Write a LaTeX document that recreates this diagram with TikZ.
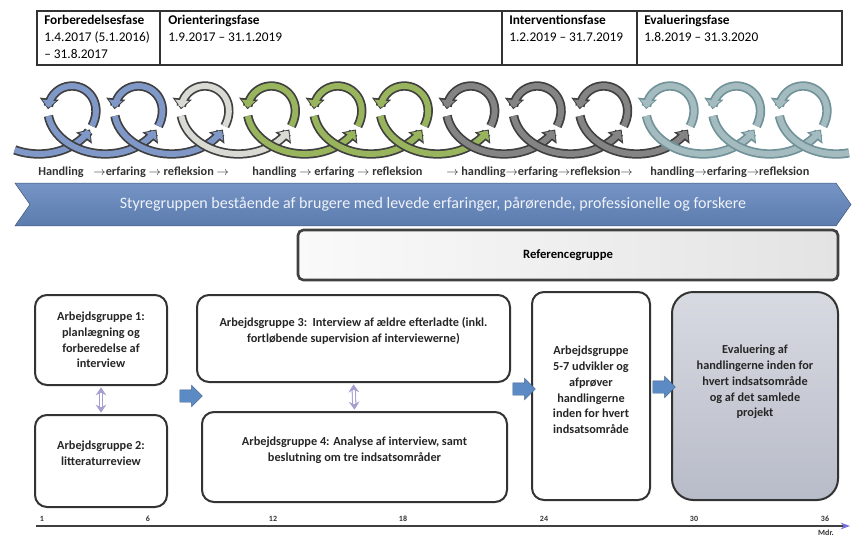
\documentclass[tikz,border=0pt]{standalone}
\usepackage{fontspec}
\setmainfont{Carlito}
\usetikzlibrary{arrows.meta,shapes.arrows,shapes.symbols}

\definecolor{bannertop}{RGB}{118,148,198}
\definecolor{bannerbot}{RGB}{92,124,174}
\definecolor{arrowblue}{RGB}{92,138,196}
\definecolor{coilblue}{RGB}{128,152,200}
\definecolor{coilwhite}{RGB}{218,218,212}
\definecolor{coilgreen}{RGB}{152,180,92}
\definecolor{coildark}{RGB}{132,132,132}
\definecolor{coilteal}{RGB}{164,188,192}
\definecolor{coiledge}{RGB}{112,146,152}
\definecolor{lavender}{RGB}{168,158,208}
\definecolor{evaltop}{RGB}{216,218,226}
\definecolor{evalbot}{RGB}{184,188,200}

\tikzset{
  agbox/.style={draw=black!80, line width=1.5pt, rounded corners=9pt, fill=white, inner sep=0pt},
  agtext/.style={font=\bfseries\fontsize{9.2}{11.8}\selectfont, align=center, text=black!85, inner sep=0pt},
  phasetext/.style={anchor=north west, align=left, inner sep=0pt, font=\fontsize{10}{12.8}\selectfont},
  cyclelabel/.style={anchor=west, inner sep=0pt, font=\bfseries\fontsize{9.2}{10}\selectfont, text=black!80},
  blockarrow/.style={single arrow, fill=arrowblue, draw=arrowblue!70!black, line width=0.3pt,
    minimum height=17pt, single arrow head extend=3.5pt, inner xsep=0pt, inner ysep=4.5pt},
  linkarrow/.style={{Stealth[length=6pt,width=8pt]}-{Stealth[length=6pt,width=8pt]}, draw=lavender,
    double=white, double distance=1.6pt, line width=0.8pt, shorten <=1pt, shorten >=1pt},
  monthlabel/.style={font=\bfseries\fontsize{6}{7}\selectfont, inner sep=0pt, text=black!80},
  % the coil
  coil outer/.style={line width=7pt},
  coil inner/.style={line width=4.4pt},
  tipped outer/.style={-{Triangle[length=8pt,width=14pt]}},
  tipped inner/.style={-{Triangle[length=5.5pt,width=10pt]}, shorten >=1.2pt},
  plain outer/.style={},
  plain inner/.style={},
}

% #1 tip kind, #2 centre, #3 and #4 parameter range, #5 edge colour, #6 fill colour
\newcommand{\coilseg}[6][tipped]{%
  \draw[coil outer, #1 outer, draw=#5] plot[domain=#3:#4, samples=30, variable=\t]
    ({#2+10.58*(\t-3.7*sin(\t r))},{120-34*cos(\t r)});
  \draw[coil inner, #1 inner, draw=#6] plot[domain=#3:#4, samples=30, variable=\t]
    ({#2+10.58*(\t-3.7*sin(\t r))},{120-34*cos(\t r)});
}

\begin{document}
\begin{tikzpicture}[x=0.75pt, y=-0.75pt]
\useasboundingbox (0,0) rectangle (853,539);

% phases
\draw[line width=0.9pt, draw=black!80] (37,11) rectangle (842,65);
\foreach \x in {160,502,637}
  \draw[line width=0.9pt, draw=black!80] (\x,11) -- (\x,65);
\node[phasetext] (ph1) at (44,15) {\textbf{Forberedelsesfase}\\1.4.2017 (5.1.2016)\\– 31.8.2017};
\node[phasetext] (ph2) at (168,15) {\textbf{Orienteringsfase}\\1.9.2017 – 31.1.2019};
\node[phasetext] (ph3) at (509,15) {\textbf{Interventionsfase}\\1.2.2019 – 31.7.2019};
\node[phasetext] (ph4) at (644,15) {\textbf{Evalueringsfase}\\1.8.2019 – 31.3.2020};

% coil: handling, erfaring, refleksion
\coilseg{72}{-3.64}{-1.85}{black!75}{coilblue}
\foreach \k/\edge/\col in {0/black!75/coilblue, 1/black!75/coilblue, 2/black!75/coilwhite,
    3/black!75/coilgreen, 4/black!75/coilgreen, 5/black!75/coilgreen,
    6/black!75/coildark, 7/black!75/coildark, 8/black!75/coildark,
    9/coiledge/coilteal, 10/coiledge/coilteal}{
  \pgfmathsetmacro\cx{72+66.45*\k}
  \coilseg{\cx}{-1.75}{1.25}{\edge}{\col}
  \coilseg{\cx}{1.45}{4.43}{\edge}{\col}
}
\coilseg{803}{-1.75}{1.25}{coiledge}{coilteal}
\coilseg[plain]{803}{1.45}{3.4}{coiledge}{coilteal}

\node[cyclelabel] (cy1) at (38,172) {Handling\hspace{0.8em}$\rightarrow$erfaring $\rightarrow$ refleksion $\rightarrow$};
\node[cyclelabel] (cy2) at (252,172) {handling $\rightarrow$ erfaring $\rightarrow$ refleksion};
\node[cyclelabel] (cy3) at (446,172) {$\rightarrow$ handling$\rightarrow$erfaring$\rightarrow$refleksion$\rightarrow$};
\node[cyclelabel] (cy4) at (650,172) {handling$\rightarrow$erfaring$\rightarrow$refleksion};

% steering group and reference group
\node[signal, signal from=west, signal to=east, signal pointer angle=110,
  top color=bannertop, bottom color=bannerbot, draw=bannerbot!70!black, line width=0.4pt,
  minimum width=627pt, minimum height=32pt, inner sep=0pt, text=white!88!bannertop,
  font=\fontsize{12}{13}\selectfont] (styre) at (433,204.5)
  {Styregruppen bestående af brugere med levede erfaringer, pårørende, professionelle og forskere};
\node[draw=black!75, line width=2pt, rounded corners=4pt, left color=gray!4, right color=gray!22,
  minimum width=405pt, minimum height=37.5pt, font=\bfseries\fontsize{9.5}{11}\selectfont] (ref) at (568,255)
  {Referencegruppe};

% working groups
\node[agbox, minimum width=99pt, minimum height=67.5pt] (ag1) at (101,340) {};
\node[agbox, minimum width=99pt, minimum height=69pt] (ag2) at (101,461) {};
\node[agbox, minimum width=234.75pt, minimum height=65.25pt] (ag3) at (353.5,338.5) {};
\node[agbox, minimum width=228.75pt, minimum height=67.5pt] (ag4) at (354.5,457) {};
\node[agbox, minimum width=88.5pt, minimum height=156pt] (ag57) at (591,396) {};
\node[agbox, rounded corners=16pt, top color=evaltop, bottom color=evalbot,
  minimum width=124.5pt, minimum height=156pt] (eval) at (755,396) {};

\node[agtext] (ag1t) at (ag1) {Arbejdsgruppe 1:\\planlægning og\\forberedelse af\\interview};
\node[agtext] (ag2t) at ([yshift=6pt]ag2) {Arbejdsgruppe 2:\\litteraturreview};
\node[agtext] (ag3t) at ([yshift=5.6pt]ag3) {Arbejdsgruppe 3:\ \ Interview af ældre efterladte (inkl.\\fortløbende supervision af interviewerne)};
\node[agtext] (ag4t) at ([yshift=5.3pt]ag4) {Arbejdsgruppe 4: Analyse af interview, samt\\beslutning om tre indsatsområder};
\node[agtext] (ag57t) at ([yshift=4.5pt]ag57) {Arbejdsgruppe\\5-7 udvikler og\\afprøver\\handlingerne\\inden for hvert\\indsatsområde};
\node[agtext] (evalt) at ([yshift=10.5pt]eval) {Evaluering af\\handlingerne inden for\\hvert indsatsområde\\og af det samlede\\projekt};

\draw[linkarrow] (ag1.south) -- (ag2.north);
\draw[linkarrow] (ag3.south) -- (ag4.north);
\node[blockarrow] (ar1) at (188,396) {};
\node[blockarrow] (ar2) at (521,389) {};
\node[blockarrow] (ar3) at (661,387) {};

% months
\coordinate (ax0) at (36,526);
\coordinate (ax1) at (850,526);
\draw[draw=black!75, line width=1pt, -{Stealth[length=7pt,width=5pt,color=lavender!70!blue]}] (ax0) -- (ax1);
\foreach \m/\px in {1/42,6/148,12/273,18/403,24/544,30/694,36/825}
  \node[monthlabel, anchor=south] (m\m) at (\px,522) {\m};
\node[monthlabel, anchor=north] (mdr) at (826,530) {Mdr.};
\end{tikzpicture}
\end{document}
